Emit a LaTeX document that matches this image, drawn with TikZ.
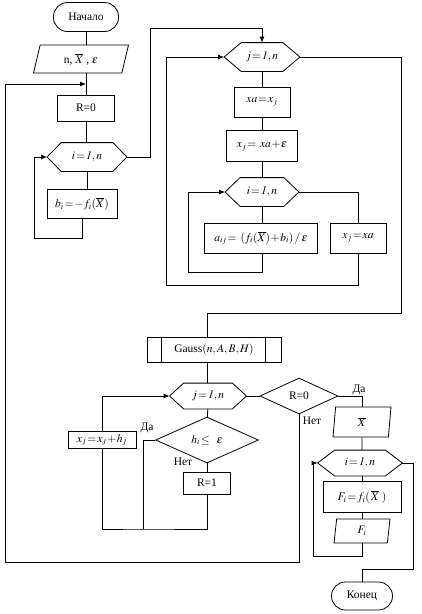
\documentclass[tikz,border=0pt]{standalone}
\usepackage{mathptmx}
\usepackage{fontspec}
\setmainfont{Liberation Serif}
\usetikzlibrary{shapes.geometric, arrows.meta}

% tighter spacing round = and + as in the original scheme
\newcommand{\tightmath}{\thickmuskip=1.5mu\relax\medmuskip=1mu\relax}

% loop header: a hexagon drawn round a plain rectangle node
\newcommand{\hexloop}[6]{%
    \node[rectangle, inner sep=0, minimum width=#3, minimum height=#4] (#1) at #2 {#6};
    \draw (#1.west) -- ([xshift=#5]#1.north west) -- ([xshift=-#5]#1.north east)
        -- (#1.east) -- ([xshift=-#5]#1.south east) -- ([xshift=#5]#1.south west) -- cycle;}

\begin{document}
\begin{tikzpicture}[x=1pt, y=-1pt, line width=0.8pt,
    every node/.style={font=\fontsize{11.5}{13}\selectfont\tightmath},
    term/.style={draw, rectangle, rounded corners=14pt, inner sep=0},
    proc/.style={draw, rectangle, inner sep=0},
    io/.style={draw, trapezium, trapezium stretches body, inner sep=0},
    cond/.style={draw, diamond, aspect=2.2, inner sep=0},
    flow/.style={-{Latex[length=6pt, width=5pt]}}]
    \useasboundingbox (0,0) rectangle (422,614);

    % left column: start, input data, first loop
    \node[term, minimum width=65pt, minimum height=29pt] (start) at (86,17) {Начало};
    \node[io, trapezium left angle=60, trapezium right angle=120,
          minimum width=95pt, minimum height=28pt] (inp) at (81,59) {n, $\overline{X}$ ,\ $\varepsilon$};
    \node[proc, minimum width=57pt, minimum height=26pt] (rzero) at (86,108) {R=0};
    \hexloop{loopi}{(87,157)}{79pt}{28pt}{14pt}{$i=\mathit{1},n$}
    \node[proc, minimum width=70pt, minimum height=29pt] (bcalc) at (82,204) {$b_i=-f_i(\overline{X})$};

    \coordinate (entry) at (86,84);
    \coordinate (lpA) at (34,238);
    \coordinate (jmpA) at (150,28);
    \draw (start) -- (start |- inp.north);
    \draw (start |- inp.south) -- (rzero);
    \draw (rzero) -- (rzero |- loopi.north);
    \draw (loopi) -- (loopi |- bcalc.north);
    \draw[flow] (bcalc.south) |- (lpA) |- (loopi.west);

    % derivatives block
    \hexloop{loopj}{(262,57)}{75pt}{28pt}{17pt}{$j=\mathit{1},n$}
    \node[proc, minimum width=56pt, minimum height=30pt] (xsave) at (262,102) {$\mathit{xa}=x_j$};
    \node[proc, minimum width=71pt, minimum height=31pt] (xstep) at (262,146) {$x_j=\ \mathit{xa}+\varepsilon$};
    \hexloop{loopk}{(262,192)}{73pt}{28pt}{15pt}{$i=\mathit{1},n$}
    \node[proc, minimum width=113pt, minimum height=30pt] (acalc) at (261,238) {$a_{ij}=\ (f_i(\overline{X})+b_i)\,/\,\varepsilon$};
    \node[proc, minimum width=56pt, minimum height=30pt] (xback) at (358,238) {$x_j=\mathit{xa}$};

    \coordinate (lpB) at (188,272);
    \coordinate (lpC) at (166,285);
    \coordinate (jmpB) at (401,313);
    \coordinate (colB) at (207,313);
    \draw[flow] (loopi.east) -| (jmpA) -| (loopj.north);
    \draw (loopj) -- (xsave);
    \draw (xsave) -- (xstep);
    \draw (xstep) -- (loopk);
    \draw (loopk) -- (loopk |- acalc.north);
    \draw[flow] (acalc.south -| loopk) |- (lpB) |- (loopk.west);
    \draw (loopk.east) -| (xback.north);
    \draw[flow] (xback.south) |- (lpC) |- (loopj.west);

    % Gauss and correction loop
    \node[proc, minimum width=134pt, minimum height=25pt] (gauss) at (214,350) {Gauss$(n,A,B,H)$};
    \draw ([xshift=15pt]gauss.north west) -- ([xshift=15pt]gauss.south west);
    \draw ([xshift=-16pt]gauss.north east) -- ([xshift=-16pt]gauss.south east);
    \hexloop{loopm}{(208,396)}{76pt}{25pt}{14pt}{$j=\mathit{1},n$}
    \node[cond, minimum width=103pt, minimum height=46pt] (test) at (207,440) {$h_i\leq\ \ \varepsilon$};
    \node[proc, minimum width=47pt, minimum height=22pt] (rone) at (207,483) {R=1};
    \node[proc, minimum width=68pt, minimum height=17pt] (xnew) at (102,440) {$x_j=x_j+h_j$};
    \node[cond, minimum width=78pt, minimum height=36pt] (rtest) at (299,396) {R=0};

    \node (yesA) at (147,428) {Да};
    \node (noA) at (183,462) {Нет};
    \node (yesB) at (359,390) {Да};
    \node (noB) at (312,421) {Нет};

    % output of the result
    \node[io, trapezium left angle=75, trapezium right angle=105,
          minimum width=58pt, minimum height=30pt] (xout) at (362,422) {$\overline{X}$};
    \hexloop{loopn}{(360,463)}{84pt}{25pt}{17pt}{$i=\mathit{1},n$}
    \node[proc, minimum width=78pt, minimum height=31pt] (fcalc) at (362,497) {$F_i=f_i(\,\overline{X}\,\,)$};
    \node[io, trapezium left angle=74, trapezium right angle=106,
          minimum width=56pt, minimum height=24pt] (fout) at (362,531) {$F_i$};
    \node[term, minimum width=61pt, minimum height=28pt] (finish) at (362,596) {Конец};

    \coordinate (lpD) at (143,529);
    \coordinate (lpE) at (5,562);
    \coordinate (lpF) at (313,556);
    \coordinate (jmpC) at (413,569);
    \draw (loopj.east) -| (jmpB) -- (colB) -- (colB |- gauss.north);
    \draw (colB |- gauss.south) -- (colB |- loopm.north);
    \draw (loopm) -- (test);
    \draw (test) -- (test |- rone.north);
    \draw[flow] (xnew) |- (loopm.west);
    \draw (xnew) |- (lpD) -| (rone);
    \draw (test.west) -| (lpD);
    \draw (loopm) -- (rtest);
    \draw[flow] (rtest.south) |- (lpE) |- (entry);
    \draw (rtest.east) -| (xout);
    \draw (xout) -- (xout |- loopn.north);
    \draw (xout |- loopn.south) -- (fcalc);
    \draw (fcalc) -- (fout);
    \draw[flow] (fout) |- (lpF) |- (loopn.west);
    \draw (loopn.east) -| (jmpC) -| (finish);
\end{tikzpicture}
\end{document}
